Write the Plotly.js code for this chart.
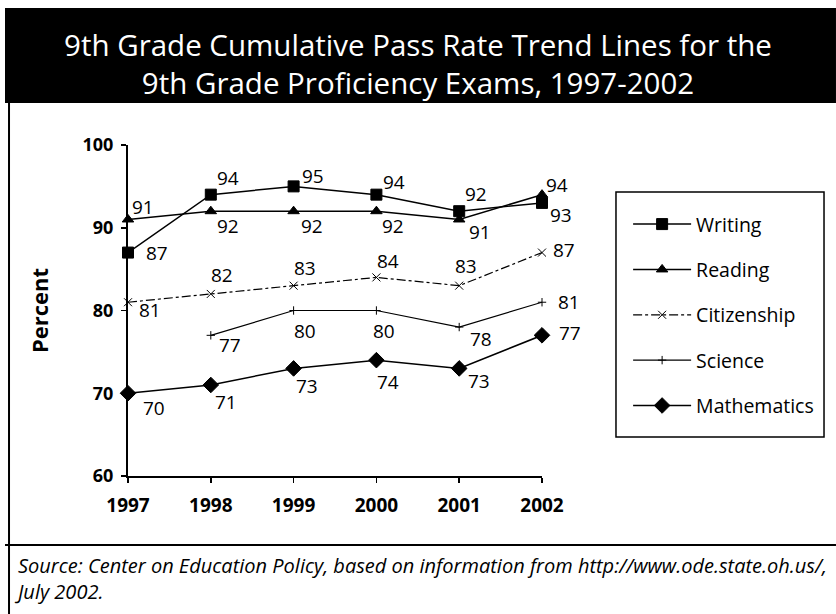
<!DOCTYPE html>
<html>
<head>
<meta charset="utf-8">
<script src="https://cdn.plot.ly/plotly-3.0.1.min.js"></script>
<style>html,body{margin:0;padding:0;background:#fff;}#chart{width:836px;height:614px;}</style>
</head>
<body>
<div id="chart"></div>
<script>
// ---- data ----
var years = [1997, 1998, 1999, 2000, 2001, 2002];
var writing = [87, 94, 95, 94, 92, 93];
var reading = [91, 92, 92, 92, 91, 94];
var citizenship = [81, 82, 83, 84, 83, 87];
var science = [null, 77, 80, 80, 78, 81];
var mathematics = [70, 71, 73, 74, 73, 77];
var seriesNames = ["Writing", "Reading", "Citizenship", "Science", "Mathematics"];
var yTicks = [60, 70, 80, 90, 100];

// label offsets (pixels) for the value labels
var offW = [[29,0],[17,-17],[19,-10],[18,-13],[17,-17],[19,12]];
var offR = [[15,-12],[17,15],[18,15],[17,15],[21,13],[15,-10]];
var offC = [[22,8],[11,-19],[11,-18],[12,-16],[7,-20],[22,-3]];
var offS = [[0,0],[19,10],[11,20],[8,20],[22,12],[27,0]];
var offM = [[26,15],[15,17],[13,18],[12,22],[20,13],[28,-2]];

var FONT = "'Open Sans', 'Noto Sans', sans-serif";

function mk(name, vals, sym, size, dash, lw, idx) {
  return {
    x: years, y: vals, name: name, type: "scatter", mode: "lines+markers",
    legendgroup: "g" + idx,
    line: {color: "#000", width: lw, dash: dash},
    marker: {symbol: sym, size: size, color: "#000", line: {color: "#000", width: 1}},
    connectgaps: false, cliponaxis: false, hoverinfo: "x+y"
  };
}

var traces = [
  mk(seriesNames[0], writing, "square", 11, "solid", 1.5, 0),
  mk(seriesNames[1], reading, "triangle-up", 10, "solid", 1.5, 1),
  mk(seriesNames[2], citizenship, "x-thin", 8, "dashdot", 1.2, 2),
  mk(seriesNames[3], science, "cross-thin", 6, "solid", 1.2, 3),
  mk(seriesNames[4], mathematics, "diamond", 12, "solid", 1.5, 4)
];

var annotations = [];
function addLabels(vals, offs) {
  for (var i = 0; i < years.length; i++) {
    if (vals[i] === null) continue;
    annotations.push({
      x: years[i], y: vals[i], xref: "x", yref: "y", text: String(vals[i]),
      showarrow: false, xshift: offs[i][0], yshift: -offs[i][1],
      font: {family: FONT, size: 19, color: "#000"}
    });
  }
}
addLabels(writing, offW);
addLabels(reading, offR);
addLabels(citizenship, offC);
addLabels(science, offS);
addLabels(mathematics, offM);

// source note
annotations.push({
  xref: "paper", yref: "paper", x: -0.2802, y: -0.3097, xanchor: "left", yanchor: "middle",
  align: "left", showarrow: false,
  text: "<i>Source: Center on Education Policy, based on information from http://www.ode.state.oh.us/,<br>July 2002.</i>",
  font: {family: FONT, size: 20, color: "#000"}
});

var shapes = [
  // black title band
  {type: "rect", xref: "paper", yref: "paper", x0: -0.2971, x1: 1.7101, y0: 1.1269, y1: 1.4139,
   fillcolor: "#000", line: {width: 0}, layer: "below"},
  // frame left
  {type: "line", xref: "paper", yref: "paper", x0: -0.2874, x1: -0.2874, y0: 1.1269, y1: -0.4169,
   line: {color: "#000", width: 2}},
  // frame bottom separator
  {type: "line", xref: "paper", yref: "paper", x0: -0.2971, x1: 1.7101, y0: -0.2085, y1: -0.2085,
   line: {color: "#000", width: 2}},
  // legend box
  {type: "rect", xref: "paper", yref: "paper", x0: 1.1787, x1: 1.6812, y0: 0.1178, y1: 0.858,
   line: {color: "#000", width: 1.5}, fillcolor: "rgba(0,0,0,0)"}
];

var layout = {
  width: 836, height: 614,
  margin: {l: 128, r: 294, t: 145, b: 138},
  paper_bgcolor: "#fff", plot_bgcolor: "#fff",
  font: {family: FONT, color: "#000"},
  title: {
    text: "9th Grade Cumulative Pass Rate Trend Lines for the<br>9th Grade Proficiency Exams, 1997-2002",
    x: 0.5, xref: "container", xanchor: "center",
    y: 1 - 56 / 614, yref: "container", yanchor: "middle",
    font: {family: FONT, size: 29.5, color: "#fff"}
  },
  xaxis: {
    range: [1997, 2002], tickvals: years, ticktext: years.map(String),
    showgrid: false, zeroline: false, showline: true, linecolor: "#000", linewidth: 2,
    ticks: "outside", ticklen: 5, tickwidth: 1.5, tickcolor: "#000",
    tickfont: {family: FONT, size: 19, color: "#000", weight: "bold"},
    ticklabelstandoff: 6, fixedrange: true
  },
  yaxis: {
    range: [60, 100], tickvals: yTicks,
    showgrid: false, zeroline: false, showline: true, linecolor: "#000", linewidth: 2,
    ticks: "outside", ticklen: 5, tickwidth: 1.5, tickcolor: "#000",
    tickfont: {family: FONT, size: 18, color: "#000", weight: "bold"},
    ticklabelstandoff: 4,
    title: {text: "Percent", standoff: 28, font: {family: FONT, size: 22, color: "#000", weight: "bold"}},
    fixedrange: true
  },
  showlegend: true,
  legend: {
    x: 1.208, y: 0.819, xanchor: "left", yanchor: "top",
    bgcolor: "rgba(0,0,0,0)", borderwidth: 0,
    traceorder: "grouped", tracegroupgap: 17, itemwidth: 58,
    font: {family: FONT, size: 19.5, color: "#000"},
    itemclick: false, itemdoubleclick: false
  },
  shapes: shapes,
  annotations: annotations
};

Plotly.newPlot("chart", traces, layout, {displayModeBar: false, staticPlot: true});
</script>
</body>
</html>
